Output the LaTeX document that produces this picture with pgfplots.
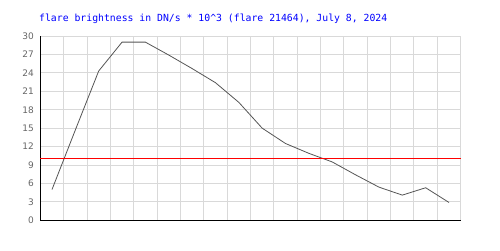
\documentclass[border=0pt]{standalone}
\usepackage{pgfplots}
\pgfplotsset{compat=1.18}
\usepackage{fontspec}
\setmainfont{DejaVu Sans}
\newfontfamily\monofont{DejaVu Sans Mono}
\definecolor{gridc}{HTML}{D9D9D9}
\definecolor{linec}{HTML}{555555}
\definecolor{tickc}{HTML}{666666}
\definecolor{titlec}{HTML}{0000FF}
\begin{document}
\begin{tikzpicture}
\path[use as bounding box] (0,0) rectangle (500pt,250pt);
\begin{axis}[
  at={(40.3pt,29.7pt)}, anchor=south west,
  scale only axis, width=420.4pt, height=184.3pt,
  xmin=0, xmax=18, ymin=0, ymax=30,
  xtick={0,1,...,18}, xticklabels={},
  ytick={0,3,...,30},
  grid=major, major grid style={gridc, line width=1pt},
  major tick length=0pt,
  axis x line*=bottom, axis y line*=left,
  axis line style={black, line width=1pt, -},
  /pgf/number format/assume math mode=true,
  yticklabel style={font=\fontsize{9}{9}\selectfont, text=tickc, xshift=-3pt},
  clip=false,
]
\addplot[linec, line width=0.8pt] coordinates {
(0.5,5.0) (1.5,14.7) (2.5,24.3) (3.5,29.0) (4.5,29.0) (5.5,26.9)
(6.5,24.7) (7.5,22.4) (8.5,19.2) (9.5,15.0) (10.5,12.5) (11.5,10.9)
(12.5,9.5) (13.5,7.4) (14.5,5.4) (15.5,4.1) (16.5,5.3) (17.5,2.9)
};
\addplot[red, line width=1pt] coordinates {(0,10) (18,10)};
\end{axis}
\node[anchor=west, inner sep=0pt, text=titlec, font=\monofont\fontsize{9.8}{10}\selectfont] at (39pt,231pt) {flare brightness in DN/s * 10\^{}3 (flare 21464), July 8, 2024};
\end{tikzpicture}
\end{document}
